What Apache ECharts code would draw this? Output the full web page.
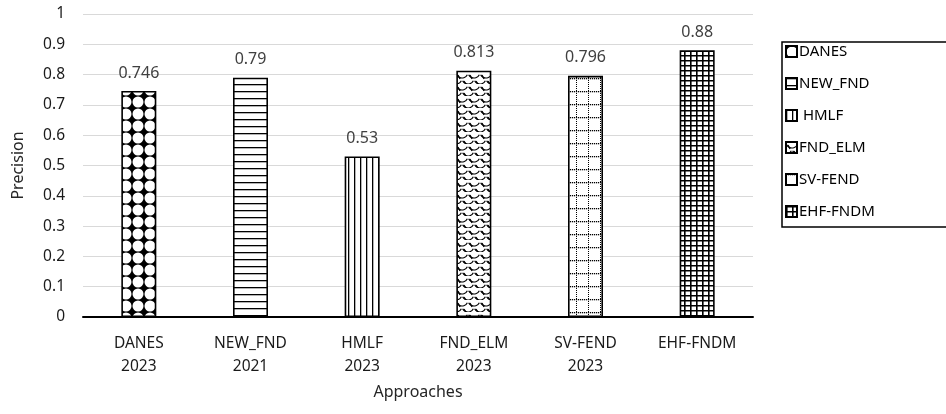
<!DOCTYPE html>
<html>
<head>
<meta charset="utf-8">
<script src="https://cdn.jsdelivr.net/npm/echarts@6/dist/echarts.min.js"></script>
<style>
html,body{margin:0;padding:0;background:#fff;}
#chart{width:946px;height:414px;}
</style>
</head>
<body>
<div id="chart"></div>
<script>
const categories = ['DANES\n2023', 'NEW_FND\n2021', 'HMLF\n2023', 'FND_ELM\n2023', 'SV-FEND\n2023', 'EHF-FNDM'];
const seriesNames = ['DANES', 'NEW_FND', ' HMLF', 'FND_ELM', 'SV-FEND', 'EHF-FNDM'];
const precisionValues = [0.746, 0.79, 0.53, 0.813, 0.796, 0.88];
const valueLabels = ['0.746', '0.79', '0.53', '0.813', '0.796', '0.88'];
const yMin = 0, yMax = 1, yInterval = 0.1;

const FONT = "'Noto Sans', 'Open Sans', sans-serif";

function tile(w, h, draw) {
  const c = document.createElement('canvas');
  c.width = w; c.height = h;
  const ctx = c.getContext('2d');
  ctx.fillStyle = '#fff';
  ctx.fillRect(0, 0, w, h);
  draw(ctx, w, h);
  return { image: c, repeat: 'repeat' };
}

const patterns = [
  // DANES: black 4-point stars between white circles
  tile(12, 12, (ctx, w, h) => {
    ctx.fillStyle = '#000';
    ctx.fillRect(0, 0, w, h);
    ctx.fillStyle = '#fff';
    ctx.beginPath(); ctx.arc(6, 6, 5.5, 0, Math.PI * 2); ctx.fill();
  }),
  // NEW_FND: horizontal lines
  tile(8, 7, (ctx, w, h) => {
    ctx.fillStyle = '#000';
    ctx.fillRect(0, 0, w, 1.3);
  }),
  // HMLF: vertical lines
  tile(6, 8, (ctx, w, h) => {
    ctx.fillStyle = '#000';
    ctx.fillRect(0, 0, 1.3, h);
  }),
  // FND_ELM: scales
  tile(12, 12, (ctx, w, h) => {
    ctx.strokeStyle = '#000';
    ctx.lineWidth = 1.2;
    ctx.beginPath(); ctx.arc(6, 0, 6, 0.15 * Math.PI, 0.85 * Math.PI); ctx.stroke();
    ctx.beginPath(); ctx.arc(0, 6, 6, 0.15 * Math.PI, 0.85 * Math.PI); ctx.stroke();
    ctx.beginPath(); ctx.arc(12, 6, 6, 0.15 * Math.PI, 0.85 * Math.PI); ctx.stroke();
    ctx.beginPath(); ctx.moveTo(2, 3); ctx.lineTo(4, 7); ctx.stroke();
    ctx.beginPath(); ctx.moveTo(8, 9); ctx.lineTo(10, 12); ctx.stroke();
  }),
  // SV-FEND: dotted grid
  tile(12, 13, (ctx, w, h) => {
    ctx.fillStyle = '#000';
    for (let y = 0; y < h; y += 2) ctx.fillRect(0, y, 1, 1);
    for (let x = 0; x < w; x += 2) ctx.fillRect(x, 0, 1.2, 1.3);
  }),
  // EHF-FNDM: small square grid
  tile(6, 5, (ctx, w, h) => {
    ctx.fillStyle = '#000';
    ctx.fillRect(0, 0, 1.6, h);
    ctx.fillRect(0, 0, w, 1.5);
  })
];

const chart = echarts.init(document.getElementById('chart'), null, { renderer: 'canvas' });

const series = seriesNames.map((name, i) => ({
  name: name,
  type: 'bar',
  stack: 'all',
  barWidth: 35,
  data: categories.map((c, j) => (j === i ? precisionValues[j] : '-')),
  itemStyle: { color: patterns[i], borderColor: '#000', borderWidth: 1.6 },
  label: {
    show: true,
    position: 'top',
    distance: 10,
    formatter: () => valueLabels[i],
    color: '#404040',
    fontSize: 16,
    fontFamily: FONT
  },
  emphasis: { disabled: true }
}));

chart.setOption({
  animation: false,
  backgroundColor: '#fff',
  grid: { left: 83, right: 193, top: 14, bottom: 97 },
  xAxis: {
    type: 'category',
    data: categories,
    name: 'Approaches',
    nameLocation: 'middle',
    nameGap: 67,
    nameTextStyle: { color: '#262626', fontSize: 16, fontFamily: FONT },
    axisLine: { lineStyle: { color: '#000', width: 2 } },
    axisTick: { show: false },
    axisLabel: { color: '#1a1a1a', fontSize: 15.5, fontFamily: FONT, lineHeight: 23, margin: 15, interval: 0 }
  },
  yAxis: {
    type: 'value',
    min: yMin, max: yMax, interval: yInterval,
    name: 'Precision',
    nameLocation: 'middle',
    nameGap: 57,
    nameTextStyle: { color: '#262626', fontSize: 16, fontFamily: FONT },
    axisLine: { show: false },
    axisTick: { show: false },
    splitLine: { lineStyle: { color: '#d9d9d9', width: 1 } },
    axisLabel: { color: '#1a1a1a', fontSize: 15.5, fontFamily: FONT, margin: 18 }
  },
  legend: {
    orient: 'vertical',
    left: 782,
    top: 42,
    data: seriesNames,
    icon: 'rect',
    itemWidth: 11,
    itemHeight: 11,
    itemGap: 17,
    borderColor: '#000',
    borderWidth: 1.5,
    padding: [2, 90, 8, 3],
    textStyle: { color: '#000', fontSize: 15, fontFamily: FONT, padding: [0, 0, 0, -3] },
    selectedMode: false
  },
  series: series
});
</script>
</body>
</html>
